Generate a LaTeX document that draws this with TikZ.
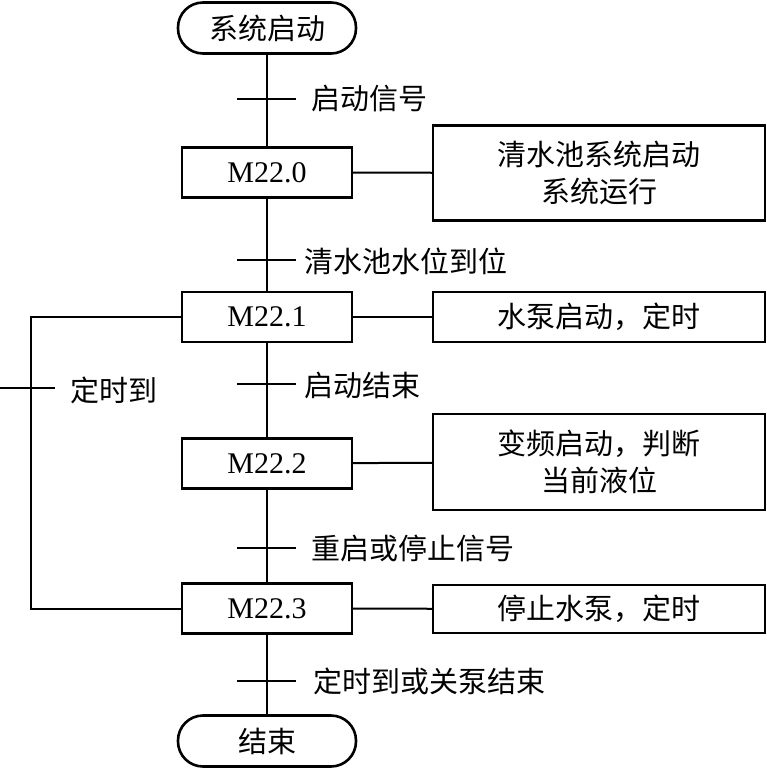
\documentclass[tikz,border=0pt]{standalone}
\usepackage{fontspec}
\setmainfont{Liberation Serif}
\newfontfamily\cjk{Noto Sans CJK SC}
\begin{document}
\begin{tikzpicture}[x=1pt,y=-1pt,
  every node/.style={inner sep=0pt,outer sep=0pt,font=\fontsize{30}{37}\selectfont},
  boxs/.style={draw,line width=2.6pt,minimum height=50pt},
  stepbox/.style={boxs,minimum width=170pt},
  actbox/.style={boxs,minimum width=332pt,align=center},
  term/.style={draw,line width=2.6pt,rounded corners=25pt,minimum width=178pt,minimum height=51pt},
  ln/.style={line width=2pt},
  lbl/.style={anchor=west,font=\fontsize{29}{37}\selectfont\cjk}]
\useasboundingbox (0,0) rectangle (767,768);
% terminators
\node[term,font=\fontsize{29}{37}\selectfont\cjk] (st) at (267,28) {系统启动};
\node[term,font=\fontsize{29}{37}\selectfont\cjk] (en) at (267,741) {结束};
% steps
\node[stepbox] (m0) at (267,172.5) {M22.0};
\node[stepbox] (m1) at (267,317) {M22.1};
\node[stepbox] (m2) at (267,463.5) {M22.2};
\node[stepbox] (m3) at (267,608.5) {M22.3};
% actions
\node[actbox,minimum height=95pt,font=\fontsize{29}{37}\selectfont\cjk] (a0) at (599,173) {清水池系统启动\\系统运行};
\node[actbox,font=\fontsize{29}{37}\selectfont\cjk] (a1) at (599,317) {水泵启动，定时};
\node[actbox,minimum height=96pt,font=\fontsize{29}{37}\selectfont\cjk] (a2) at (599,462) {变频启动，判断\\当前液位};
\node[actbox,minimum height=48pt,font=\fontsize{29}{37}\selectfont\cjk] (a3) at (599,609) {停止水泵，定时};
% main flow
\draw[ln] (st) -- (m0);
\draw[ln] (m0) -- (m1);
\draw[ln] (m1) -- (m2);
\draw[ln] (m2) -- (m3);
\draw[ln] (m3) -- (en);
% step-action links
\draw[ln] (m0) -- (a0);
\draw[ln] (m1) -- (a1);
\draw[ln] (m2) -- (a2);
\draw[ln] (m3) -- (a3);
% loop
\coordinate (lp) at (31,317);
\draw[ln] (m1.west) -- (lp) |- (m3.west);
% transitions
\foreach \n/\y in {t1/99,t2/260,t3/384,t4/548,t5/681}{
  \coordinate (\n l) at (237,\y);
  \coordinate (\n r) at (296,\y);
  \draw[ln] (\n l) -- (\n r);
}
\coordinate (t6l) at (0,388);
\coordinate (t6r) at (55,388);
\draw[ln] (t6l) -- (t6r);
% transition labels
\node[lbl] (l1) at (311,99) {启动信号};
\node[lbl] (l2) at (304,261) {清水池水位到位};
\node[lbl] (l3) at (304,385) {启动结束};
\node[lbl] (l4) at (311,548) {重启或停止信号};
\node[lbl] (l5) at (313,681) {定时到或关泵结束};
\node[lbl] (l6) at (70,390) {定时到};
\end{tikzpicture}
\end{document}
